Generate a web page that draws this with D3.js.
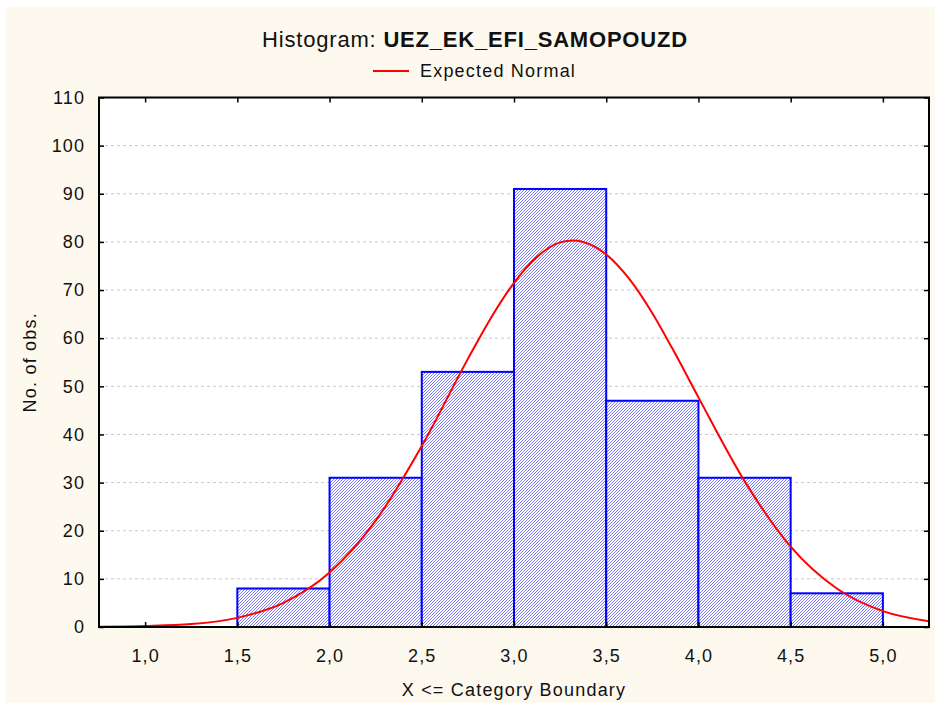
<!DOCTYPE html>
<meta charset="utf-8">
<style>
body { margin: 0; background: #fff; }
text { font-family: "Liberation Sans", Arial, sans-serif; fill: #111; }
.grid line { stroke: #c8c8c8; stroke-dasharray: 3,3; }
</style>
<svg width="935" height="703"></svg>
<script src="https://cdn.jsdelivr.net/npm/d3@7"></script>
<script>

// bins (upper boundary) and counts
var binStart = [1.5, 2.0, 2.5, 3.0, 3.5, 4.0, 4.5];
var binEnd   = [2.0, 2.5, 3.0, 3.5, 4.0, 4.5, 5.0];
var counts   = [8, 31, 53, 91, 47, 31, 7];

// expected normal
var curveX = [0.75, 1.0, 1.25, 1.5, 1.75, 2.0, 2.25, 2.5, 2.75, 2.875, 3.0, 3.125, 3.25, 3.32, 3.375, 3.5, 3.625, 3.75, 3.875, 4.0, 4.25, 4.5, 4.75, 5.0, 5.25];
var curveY = [0.05, 0.2, 0.6, 1.9, 5.0, 11.3, 22.1, 37.6, 55.7, 64.2, 71.5, 76.9, 79.9, 80.3, 80.0, 77.4, 72.3, 65.2, 56.7, 47.7, 30.3, 16.7, 8.0, 3.3, 1.2];

var xTicks = [1.0, 1.5, 2.0, 2.5, 3.0, 3.5, 4.0, 4.5, 5.0];
var yTicks = [0, 10, 20, 30, 40, 50, 60, 70, 80, 90, 100, 110];

var svg = d3.select("svg");

var pLeft = 99, pRight = 929, pTop = 97.5, pBottom = 627;

svg.append("rect")
    .attr("x", 6).attr("y", 7).attr("width", 929).attr("height", 696)
    .attr("fill", "#fdf9ef");

var defs = svg.append("defs");
var pat = defs.append("pattern")
    .attr("id", "hatch")
    .attr("patternUnits", "userSpaceOnUse")
    .attr("width", 3).attr("height", 3);
pat.append("rect").attr("width", 3).attr("height", 3).attr("fill", "#fff");
pat.append("path")
    .attr("d", "M-1,1 l2,-2 M0,3 l3,-3 M2,4 l2,-2")
    .attr("stroke", "#5a5aff")
    .attr("stroke-width", 0.8);

defs.append("clipPath").attr("id", "plotclip")
    .append("rect")
    .attr("x", pLeft).attr("y", pTop)
    .attr("width", pRight - pLeft).attr("height", pBottom - pTop);

var x = d3.scaleLinear().domain([0.75, 5.25]).range([pLeft, pRight]);
var y = d3.scaleLinear().domain([0, 110]).range([pBottom, pTop]);

// plot background
svg.append("rect")
    .attr("x", pLeft).attr("y", pTop)
    .attr("width", pRight - pLeft).attr("height", pBottom - pTop)
    .attr("fill", "#fff");

// grid
svg.append("g")
    .attr("class", "grid")
    .selectAll("line")
    .data(yTicks.slice(1, -1))
    .enter().append("line")
    .attr("x1", pLeft).attr("x2", pRight)
    .attr("y1", function(d) { return y(d); })
    .attr("y2", function(d) { return y(d); });

// bars
svg.append("g")
    .selectAll("rect")
    .data(counts)
    .enter().append("rect")
    .attr("x", function(d, i) { return x(binStart[i]); })
    .attr("y", function(d) { return y(d); })
    .attr("width", function(d, i) { return x(binEnd[i]) - x(binStart[i]); })
    .attr("height", function(d) { return y(0) - y(d); })
    .attr("fill", "url(#hatch)")
    .attr("stroke", "#0000ff")
    .attr("stroke-width", 2);

// normal curve
var pts = curveX.map(function(v, i) { return [v, curveY[i]]; });
var line = d3.line()
    .x(function(d) { return x(d[0]); })
    .y(function(d) { return y(d[1]); })
    .curve(d3.curveMonotoneX);

svg.append("path")
    .datum(pts)
    .attr("clip-path", "url(#plotclip)")
    .attr("d", line)
    .attr("fill", "none")
    .attr("stroke", "#ff0000")
    .attr("stroke-width", 2);

// axes, ticks inside on all four sides
var fmt = function(d) { return d3.format(".1f")(d).replace(".", ","); };

var axB = svg.append("g").attr("transform", "translate(0," + pBottom + ")")
    .call(d3.axisBottom(x).tickValues(xTicks).tickSizeInner(-5).tickSizeOuter(0).tickPadding(22).tickFormat(fmt));
var axT = svg.append("g").attr("transform", "translate(0," + pTop + ")")
    .call(d3.axisTop(x).tickValues(xTicks).tickSizeInner(-5).tickSizeOuter(0).tickFormat(""));
var axL = svg.append("g").attr("transform", "translate(" + pLeft + ",0)")
    .call(d3.axisLeft(y).tickValues(yTicks).tickSizeInner(-5).tickSizeOuter(0).tickPadding(14));
var axR = svg.append("g").attr("transform", "translate(" + pRight + ",0)")
    .call(d3.axisRight(y).tickValues(yTicks).tickSizeInner(-5).tickSizeOuter(0).tickFormat(""));

[axB, axT, axL, axR].forEach(function(a) {
    a.select(".domain").remove();
    a.selectAll("line").attr("stroke", "#000").attr("stroke-width", 1.5);
    a.selectAll("text")
        .attr("fill", "#111")
        .style("font-family", '"Liberation Sans", Arial, sans-serif')
        .style("font-size", "18px")
        .style("letter-spacing", "1.1px");
});

// frame
svg.append("rect")
    .attr("x", pLeft).attr("y", pTop)
    .attr("width", pRight - pLeft).attr("height", pBottom - pTop)
    .attr("fill", "none")
    .attr("stroke", "#000")
    .attr("stroke-width", 2);

// title
var title = svg.append("text")
    .attr("x", 475).attr("y", 47)
    .attr("text-anchor", "middle")
    .style("font-size", "22px")
    .style("letter-spacing", "0.8px");
title.append("tspan").text("Histogram: ");
title.append("tspan").attr("font-weight", "bold").text("UEZ_EK_EFI_SAMOPOUZD");

// legend
svg.append("line")
    .attr("x1", 373).attr("x2", 409)
    .attr("y1", 71).attr("y2", 71)
    .attr("stroke", "#ff0000").attr("stroke-width", 2);
svg.append("text")
    .attr("x", 420).attr("y", 77)
    .style("font-size", "18px")
    .style("letter-spacing", "1.2px")
    .text("Expected Normal");

// axis titles
svg.append("text")
    .attr("x", (pLeft + pRight) / 2).attr("y", 696)
    .attr("text-anchor", "middle")
    .style("font-size", "18px")
    .style("letter-spacing", "1.2px")
    .text("X <= Category Boundary");

svg.append("text")
    .attr("transform", "translate(36," + (pTop + pBottom) / 2 + ") rotate(-90)")
    .attr("text-anchor", "middle")
    .style("font-size", "18px")
    .style("letter-spacing", "1.2px")
    .text("No. of obs.");

</script>
